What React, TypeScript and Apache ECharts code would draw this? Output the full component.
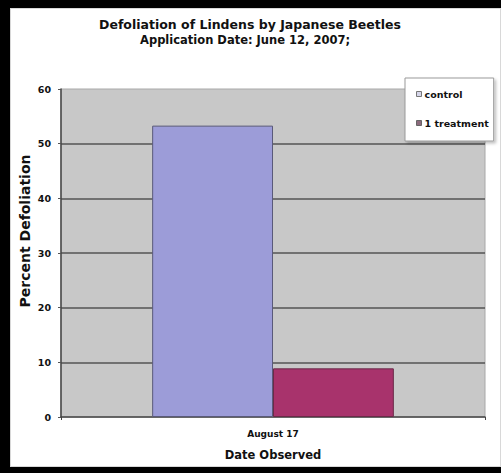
import React, { useEffect, useRef } from "react";
import * as echarts from "echarts";

const categories = ["August 17"];
const seriesNames = ["control", "1 treatment"];
const controlValues = [53.3];
const treatmentValues = [8.9];
const yTicks = { min: 0, max: 60, interval: 10 };

export default function App() {
  const ref = useRef<HTMLDivElement>(null);
  useEffect(() => {
    document.body.style.margin = "0";
    const chart = echarts.init(ref.current!, null, { renderer: "svg" });
    const font = "DejaVu Sans, Arial, sans-serif";
    chart.setOption({
      animation: false,
      backgroundColor: "transparent",
      title: [
        {
          text: "Defoliation of Lindens by Japanese Beetles",
          left: 245,
          top: 13,
          textAlign: "center",
          textStyle: { fontFamily: font, fontSize: 12.5, fontWeight: "bold", color: "#111" },
        },
        {
          text: "Application Date: June 12, 2007;",
          left: 240,
          top: 29,
          textAlign: "center",
          textStyle: { fontFamily: font, fontSize: 11.5, fontWeight: "bold", color: "#111" },
        },
      ],
      legend: {
        orient: "vertical",
        left: 405,
        top: 78,
        padding: [11, 5, 13, 11],
        itemGap: 19,
        itemWidth: 5,
        itemHeight: 5,
        backgroundColor: "#ffffff",
        borderColor: "#9a9a9a",
        borderWidth: 1,
        shadowColor: "rgba(0,0,0,0.25)",
        shadowBlur: 3,
        shadowOffsetX: 2,
        shadowOffsetY: 2,
        textStyle: { fontFamily: font, fontSize: 9.5, fontWeight: "bold", color: "#111", padding: [0, 0, 0, -2] },
        data: [
          { name: seriesNames[0], icon: "rect", itemStyle: { color: "#d6d6ea", borderColor: "#777", borderWidth: 1 } },
          { name: seriesNames[1], icon: "rect", itemStyle: { color: "#8c6a7c", borderColor: "#666", borderWidth: 1 } },
        ],
      },
      grid: {
        left: 61,
        top: 89,
        right: 16,
        bottom: 56,
        show: true,
        backgroundColor: "#c8c8c8",
        borderColor: "#a8a8a8",
        borderWidth: 1,
      },
      xAxis: {
        type: "category",
        data: categories,
        name: "Date Observed",
        nameLocation: "middle",
        nameGap: 32,
        nameTextStyle: { fontFamily: font, fontSize: 11.5, fontWeight: "bold", color: "#111" },
        axisLine: { lineStyle: { color: "#444", width: 1.5 } },
        axisTick: { show: true, length: 3, lineStyle: { color: "#444" } },
        axisLabel: { fontFamily: font, fontSize: 9, fontWeight: "bold", color: "#111", margin: 12 },
      },
      yAxis: {
        type: "value",
        min: yTicks.min,
        max: yTicks.max,
        interval: yTicks.interval,
        axisLine: { show: true, lineStyle: { color: "#444", width: 1.5 } },
        axisTick: { show: true, length: 3, lineStyle: { color: "#555" } },
        axisLabel: { fontFamily: font, fontSize: 9.5, fontWeight: "bold", color: "#111", margin: 10 },
        splitLine: {
          show: true,
          lineStyle: {
            color: ["transparent", "#555", "#555", "#555", "#555", "#555", "transparent"],
            width: 1.5,
          },
        },
      },
      graphic: [
        {
          type: "text",
          x: 25,
          y: 231,
          rotation: Math.PI / 2,
          style: {
            text: "Percent Defoliation",
            fontFamily: font,
            fontSize: 14,
            fontWeight: "bold",
            fill: "#111",
            align: "center",
            verticalAlign: "middle",
          },
        },
      ],
      series: [
        {
          name: seriesNames[0],
          type: "bar",
          data: controlValues,
          barGap: "0%",
          barCategoryGap: "43%",
          itemStyle: { color: "#9c9cd8", borderColor: "#5a5a7a", borderWidth: 1 },
        },
        {
          name: seriesNames[1],
          type: "bar",
          data: treatmentValues,
          barGap: "0%",
          barCategoryGap: "43%",
          itemStyle: { color: "#a8336c", borderColor: "#6a2a48", borderWidth: 1 },
        },
      ],
    });
    return () => chart.dispose();
  }, []);
  return (
    <div style={{ position: "fixed", left: 0, top: 0, width: 501, height: 473, background: "#000" }}>
      <div
        style={{
          position: "absolute",
          left: 10,
          top: 8,
          width: 491,
          height: 459,
          background: "#fff",
          boxSizing: "border-box",
          border: "1px solid #d8d8d8",
        }}
      />
      <div ref={ref} style={{ position: "absolute", left: 0, top: 0, width: 501, height: 473 }} />
    </div>
  );
}
